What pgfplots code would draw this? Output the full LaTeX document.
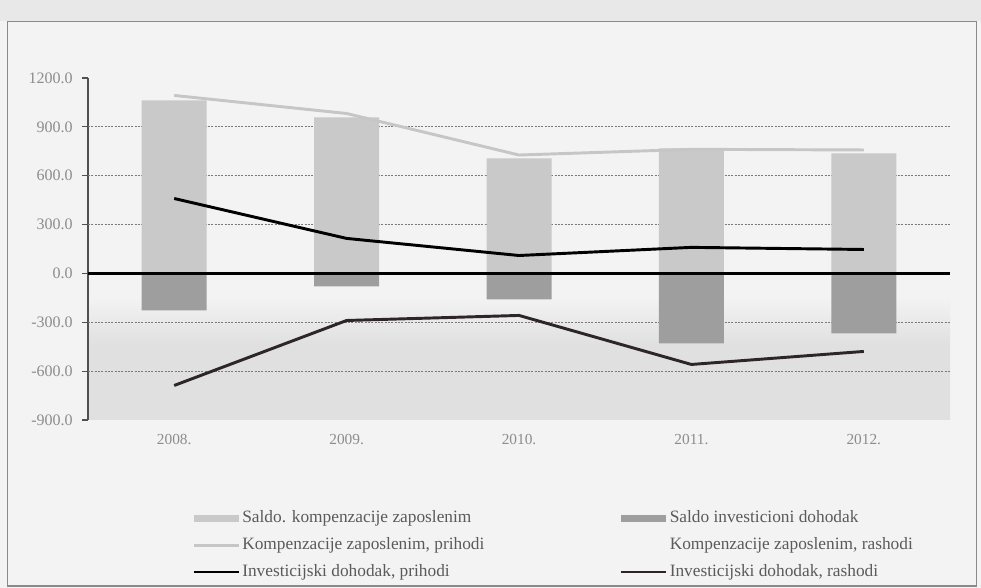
\documentclass[border=0pt]{standalone}
\usepackage{fontspec}
\setmainfont{Liberation Serif}
\usepackage{pgfplots}
\pgfplotsset{compat=1.18}
\definecolor{bg}{HTML}{F3F3F3}
\definecolor{topgray}{HTML}{E8E8E8}
\definecolor{framecol}{HTML}{8A8A8A}
\definecolor{lowgray}{HTML}{E0E0E0}
\definecolor{lbar}{HTML}{C9C9C9}
\definecolor{dbar}{HTML}{9E9E9E}
\definecolor{lline}{HTML}{C6C6C6}
\definecolor{gridcol}{HTML}{7A7A7A}
\definecolor{ticktext}{HTML}{8C8C8C}
\definecolor{legtext}{HTML}{5A5A5A}
\definecolor{axiscol}{HTML}{505050}
\definecolor{invr}{HTML}{2E2626}
\pgfdeclareverticalshading{plotbg}{100bp}{color(0bp)=(lowgray); color(25bp)=(lowgray); color(36bp)=(lowgray); color(43bp)=(bg); color(100bp)=(bg)}
\begin{document}
\begin{tikzpicture}
\useasboundingbox (0,0) rectangle (735.75pt,441pt);
\fill[bg] (0,0) rectangle (735.75pt,441pt);
\fill[topgray] (0,425pt) rectangle (735.75pt,441pt);
\draw[framecol, line width=0.8pt] (5.5pt,1.5pt) rectangle (732.5pt,425pt);
\begin{axis}[
  at={(66pt,126pt)}, anchor=south west,
  scale only axis, width=646.5pt, height=256.5pt,
  xmin=-0.5, xmax=4.5, ymin=-900, ymax=1200,
  axis background/.style={shading=plotbg},
  xtick={0,...,4}, xticklabels={2008.,2009.,2010.,2011.,2012.},
  ytick={-900,-600,...,1200},
  yticklabels={-900.0,-600.0,-300.0,0.0,300.0,600.0,900.0,1200.0},
  extra y ticks={-600,-300,300,600,900}, extra y tick labels={},
  extra y tick style={grid=major, tick style={draw=none}},
  grid style={dash pattern=on 1.5pt off 1pt, color=gridcol, line width=0.7pt},
  axis lines*=left,
  axis line style={-, draw=axiscol, line width=0.9pt},
  x axis line style={draw=none},
  xtick style={draw=none},
  ytick style={draw=axiscol, line width=0.9pt},
  tick align=outside, major tick length=4.5pt,
  yticklabel style={font=\fontsize{12}{14}\selectfont, text=ticktext, xshift=-3.5pt},
  xticklabel style={font=\fontsize{11.5}{13}\selectfont, text=ticktext, yshift=-3pt},
  legend columns=2,
  legend cell align=left,
  legend style={at={(0.1207,-0.2573)}, anchor=north west, draw=none, fill=none,
    font=\fontsize{13}{15}\selectfont, text=legtext, inner sep=0pt, row sep=4.5pt,
    nodes={inner sep=1.5pt, text height=9.5pt, text depth=3pt},
    /tikz/every even column/.append style={column sep=100pt}},
]
\addplot[ybar, bar width=48.75pt, bar shift=0pt, fill=lbar, draw=none,
  legend image code/.code={\fill[lbar] (0pt,-2.5pt) rectangle (34pt,2.5pt);}]
  coordinates {(0,1062) (1,958) (2,706) (3,768) (4,737)};
\addlegendentry{Saldo. kompenzacije zaposlenim}
\addplot[ybar, bar width=48.75pt, bar shift=0pt, fill=dbar, draw=none,
  legend image code/.code={\fill[dbar] (0pt,-2.5pt) rectangle (34pt,2.5pt);}]
  coordinates {(0,-227) (1,-80) (2,-160) (3,-430) (4,-368)};
\addlegendentry{Saldo investicioni dohodak}
\addplot[black, line width=1.8pt, forget plot] coordinates {(-0.5,0) (4.5,0)};
\addplot[lline, line width=2.2pt,
  legend image code/.code={\draw[lline, line width=2pt] (0pt,0pt) -- (34pt,0pt);}]
  coordinates {(0,1093) (1,982) (2,727) (3,762) (4,758)};
\addlegendentry{Kompenzacije zaposlenim, prihodi}
\addplot[draw=none,
  legend image code/.code={\path (0pt,0pt) -- (34pt,0pt);}]
  coordinates {(0,-31) (1,-24) (2,-21) (3,-10) (4,-21)};
\addlegendentry{Kompenzacije zaposlenim, rashodi}
\addplot[black, line width=2.2pt,
  legend image code/.code={\draw[black, line width=2pt] (0pt,0pt) -- (34pt,0pt);}]
  coordinates {(0,460) (1,215) (2,110) (3,160) (4,147)};
\addlegendentry{Investicijski dohodak, prihodi}
\addplot[invr, line width=2.2pt,
  legend image code/.code={\draw[invr, line width=2pt] (0pt,0pt) -- (34pt,0pt);}]
  coordinates {(0,-688) (1,-289) (2,-258) (3,-559) (4,-479)};
\addlegendentry{Investicijski dohodak, rashodi}
\end{axis}
\end{tikzpicture}
\end{document}
